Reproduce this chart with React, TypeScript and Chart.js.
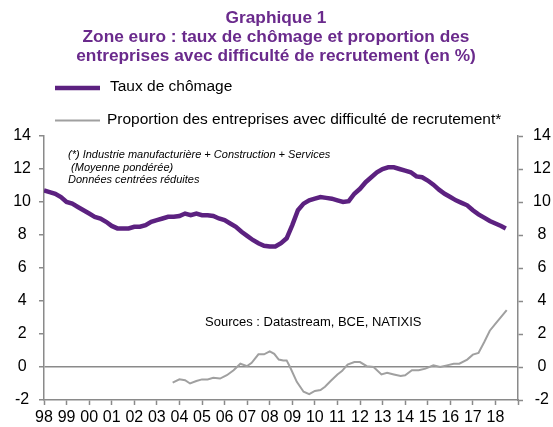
import React, { useEffect, useRef } from "react";
import { Chart, registerables } from "chart.js";

Chart.register(...registerables);

// Taux de chômage (zone euro), dates in decimal years
const chomageDates = [
  1998.0, 1998.25, 1998.5, 1998.75, 1999.0, 1999.25, 1999.5, 1999.75,
  2000.0, 2000.25, 2000.5, 2000.75, 2001.0, 2001.25, 2001.5, 2001.75,
  2002.0, 2002.25, 2002.5, 2002.75, 2003.0, 2003.25, 2003.5, 2003.75,
  2004.0, 2004.25, 2004.5, 2004.75, 2005.0, 2005.25, 2005.5, 2005.75,
  2006.0, 2006.25, 2006.5, 2006.75, 2007.0, 2007.25, 2007.5, 2007.75,
  2008.0, 2008.25, 2008.5, 2008.75, 2009.0, 2009.25, 2009.5, 2009.75,
  2010.0, 2010.25, 2010.5, 2010.75, 2011.0, 2011.25, 2011.5, 2011.75,
  2012.0, 2012.25, 2012.5, 2012.75, 2013.0, 2013.25, 2013.5, 2013.75,
  2014.0, 2014.25, 2014.5, 2014.75, 2015.0, 2015.25, 2015.5, 2015.75,
  2016.0, 2016.25, 2016.5, 2016.75, 2017.0, 2017.25, 2017.5, 2017.75,
  2018.0, 2018.25, 2018.46,
];
const chomageValues = [
  10.7, 10.6, 10.5, 10.3, 10.0, 9.9, 9.7, 9.5,
  9.3, 9.1, 9.0, 8.8, 8.55, 8.4, 8.4, 8.4,
  8.5, 8.5, 8.6, 8.8, 8.9, 9.0, 9.1, 9.1,
  9.15, 9.3, 9.2, 9.3, 9.2, 9.2, 9.15, 9.0,
  8.9, 8.7, 8.5, 8.2, 7.95, 7.7, 7.5, 7.35,
  7.3, 7.3, 7.5, 7.8, 8.6, 9.5, 9.9, 10.1,
  10.2, 10.3, 10.25, 10.2, 10.1, 10.0, 10.05, 10.5,
  10.8, 11.2, 11.5, 11.8, 12.0, 12.1, 12.1, 12.0,
  11.9, 11.8, 11.55, 11.5, 11.3, 11.05, 10.75, 10.5,
  10.3, 10.1, 9.95, 9.8, 9.5, 9.25, 9.05, 8.85,
  8.7, 8.55, 8.4,
];

// Proportion des entreprises avec difficulté de recrutement (données centrées réduites)
const recrutDates = [
  2003.7, 2004.0, 2004.25, 2004.47, 2004.75, 2005.0, 2005.25, 2005.5,
  2005.8, 2006.1, 2006.4, 2006.7, 2007.0, 2007.2, 2007.5, 2007.75,
  2008.0, 2008.2, 2008.4, 2008.6, 2008.75, 2008.9, 2009.2, 2009.5,
  2009.75, 2010.0, 2010.25, 2010.45, 2010.7, 2011.0, 2011.2, 2011.45,
  2011.75, 2012.0, 2012.3, 2012.6, 2012.95, 2013.2, 2013.5, 2013.8,
  2014.0, 2014.3, 2014.6, 2014.9, 2015.25, 2015.55, 2015.85, 2016.15,
  2016.4, 2016.75, 2017.0, 2017.25, 2017.5, 2017.75, 2018.05, 2018.5,
];
const recrutValues = [
  -0.95, -0.75, -0.8, -1.0, -0.85, -0.75, -0.75, -0.65,
  -0.7, -0.5, -0.2, 0.2, 0.05, 0.25, 0.77, 0.77,
  0.95, 0.8, 0.45, 0.4, 0.4, 0.0, -0.9, -1.5,
  -1.65, -1.45, -1.4, -1.2, -0.85, -0.45, -0.25, 0.15,
  0.3, 0.3, 0.05, 0.0, -0.45, -0.35, -0.45, -0.55,
  -0.5, -0.2, -0.2, -0.1, 0.1, 0.0, 0.1, 0.2,
  0.2, 0.45, 0.75, 0.85, 1.5, 2.2, 2.7, 3.45,
];

const xMin = 1998;
const xMax = 2019;
const yMin = -2;
const yMax = 14;

const titleLines = [
  "Graphique 1",
  "Zone euro : taux de chômage et proportion des",
  "entreprises avec difficulté de recrutement (en %)",
];
const legendLabels = [
  "Taux de chômage",
  "Proportion des entreprises avec difficulté de recrutement*",
];
const noteLines = [
  "(*) Industrie manufacturière + Construction + Services",
  " (Moyenne pondérée)",
  "Données centrées réduites",
];
const sourceText = "Sources : Datastream, BCE, NATIXIS";

const PURPLE = "#5c2180";
const TITLE_PURPLE = "#6a2a8c";
const GREY = "#a0a0a0";
const AXIS = "#8a8a8a";
const FONT = "Arial, 'Liberation Sans', sans-serif";

export default function App() {
  const ref = useRef<HTMLCanvasElement>(null);

  useEffect(() => {
    if (!ref.current) return;

    const textPlugin = {
      id: "texts",
      afterDraw(chart: any) {
        const ctx = chart.ctx;
        ctx.save();
        // title
        ctx.fillStyle = TITLE_PURPLE;
        ctx.font = `bold 17.3px ${FONT}`;
        ctx.textAlign = "center";
        ctx.textBaseline = "middle";
        const ty = [18, 37.5, 56.5];
        titleLines.forEach((t, i) => ctx.fillText(t, 276, ty[i]));
        // legend
        ctx.lineCap = "butt";
        ctx.strokeStyle = PURPLE;
        ctx.lineWidth = 4.5;
        ctx.beginPath();
        ctx.moveTo(55, 88);
        ctx.lineTo(100, 88);
        ctx.stroke();
        ctx.strokeStyle = GREY;
        ctx.lineWidth = 2;
        ctx.beginPath();
        ctx.moveTo(55, 120.5);
        ctx.lineTo(100, 120.5);
        ctx.stroke();
        ctx.fillStyle = "#000";
        ctx.font = `15.5px ${FONT}`;
        ctx.textAlign = "left";
        ctx.fillText(legendLabels[0], 110, 87);
        ctx.fillText(legendLabels[1], 107, 120);
        // note
        ctx.font = `italic 11px ${FONT}`;
        const ny = [155, 168, 180];
        noteLines.forEach((t, i) => ctx.fillText(t, 68, ny[i]));
        // sources
        ctx.font = `13px ${FONT}`;
        ctx.fillText(sourceText, 205, 322);
        ctx.restore();
      },
    };

    const chart = new Chart(ref.current, {
      type: "line",
      data: {
        datasets: [
          {
            label: legendLabels[1],
            data: recrutDates.map((d, i) => ({ x: d, y: recrutValues[i] })),
            borderColor: GREY,
            borderWidth: 2,
            pointRadius: 0,
            tension: 0,
            yAxisID: "y",
          },
          {
            label: legendLabels[0],
            data: chomageDates.map((d, i) => ({ x: d, y: chomageValues[i] })),
            borderColor: PURPLE,
            borderWidth: 4.5,
            pointRadius: 0,
            tension: 0,
            yAxisID: "y",
          },
        ],
      },
      options: {
        animation: false,
        responsive: false,
        maintainAspectRatio: false,
        layout: { padding: { top: 136, left: 0, right: 0, bottom: 0 } },
        plugins: {
          legend: { display: false },
          title: { display: false },
          tooltip: { enabled: false },
        },
        scales: {
          x: {
            type: "linear",
            min: xMin,
            max: xMax,
            afterFit: (s: any) => {
              s.height = 27;
            },
            border: { color: AXIS, width: 1.5 },
            grid: {
              drawOnChartArea: false,
              tickLength: 5,
              tickColor: AXIS,
              tickWidth: 1.5,
            },
            ticks: {
              stepSize: 1,
              autoSkip: false,
              maxRotation: 0,
              padding: 3,
              color: "#000",
              font: { family: FONT, size: 16 },
              callback: (v: any) =>
                v >= xMax ? "" : String(Number(v) % 100).padStart(2, "0"),
            },
          },
          y: {
            position: "left",
            min: yMin,
            max: yMax,
            afterFit: (s: any) => {
              s.width = 44;
            },
            border: { color: AXIS, width: 1.5 },
            grid: {
              drawOnChartArea: true,
              color: (c: any) =>
                c.tick && c.tick.value === 0 ? AXIS : "rgba(0,0,0,0)",
              lineWidth: 1.5,
              tickLength: 5,
              tickColor: AXIS,
              tickWidth: 1.5,
            },
            ticks: {
              stepSize: 2,
              crossAlign: "center",
              padding: 8,
              color: "#000",
              font: { family: FONT, size: 16 },
            },
          },
          y2: {
            position: "right",
            min: yMin,
            max: yMax,
            afterFit: (s: any) => {
              s.width = 35;
            },
            border: { color: AXIS, width: 1.5 },
            grid: {
              drawOnChartArea: false,
              tickLength: 5,
              tickColor: AXIS,
              tickWidth: 1.5,
            },
            ticks: {
              stepSize: 2,
              crossAlign: "center",
              padding: 10,
              color: "#000",
              font: { family: FONT, size: 16 },
            },
          },
        },
      },
      plugins: [textPlugin],
    });
    return () => chart.destroy();
  }, []);

  return (
    <div
      style={{
        position: "fixed",
        left: 0,
        top: 0,
        width: 553,
        height: 427,
        background: "#fff",
      }}
    >
      <canvas ref={ref} width={553} height={427} />
    </div>
  );
}
